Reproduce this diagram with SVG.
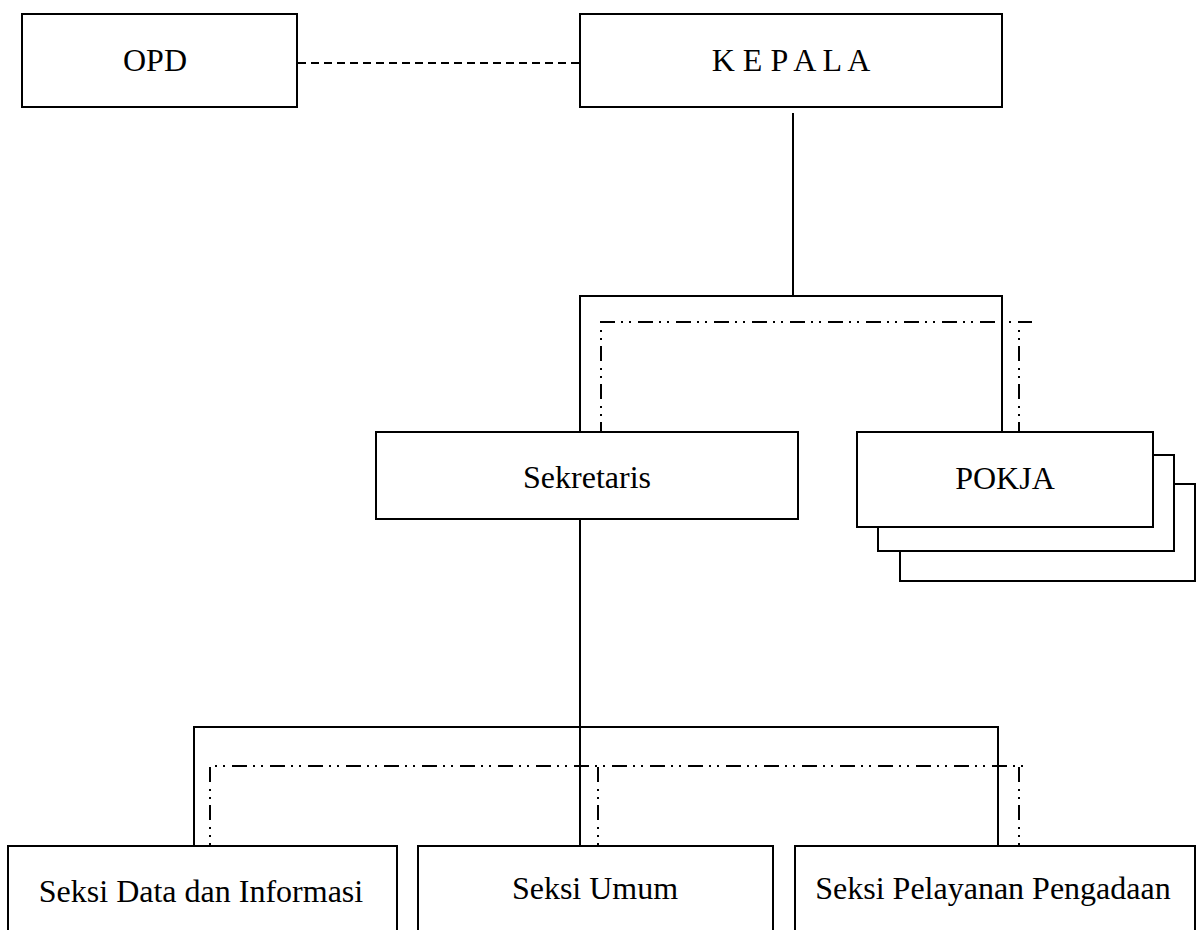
<svg xmlns="http://www.w3.org/2000/svg" width="1196" height="930" viewBox="0 0 1196 930">
<style>
.box{fill:#fff;stroke:#000;stroke-width:2}
.t{font-family:"Liberation Serif","Times New Roman",serif;font-size:32px;fill:#000;text-anchor:middle}
.solid{fill:none;stroke:#000;stroke-width:2}
.dash{fill:none;stroke:#000;stroke-width:2;stroke-dasharray:8 5}
.dd{fill:none;stroke:#000;stroke-width:2;stroke-dasharray:15 6 2 6 2 7}
</style>
<rect width="1196" height="930" fill="#fff"/>
<g id="connectors">
<line class="dash" x1="298" y1="63" x2="580" y2="63"/>
<polyline class="solid" points="793,113 793,296"/>
<polyline class="solid" points="580,432 580,296 1002,296 1002,432"/>
<polyline class="dd" points="601,437 601,322 1032,322"/>
<polyline class="dd" points="1019,437 1019,322"/>
<polyline class="solid" points="580,519 580,727"/>
<polyline class="solid" points="194,846 194,727 998,727 998,846"/>
<line class="solid" x1="580" y1="727" x2="580" y2="846"/>
<polyline class="dd" points="210,858 210,766 1024,766"/>
<polyline class="dd" points="598,858 598,766"/>
<polyline class="dd" points="1019,858 1019,766"/>
</g>
<g id="opd"><rect class="box" x="22" y="14" width="275" height="93"/><text class="t" x="155" y="71">OPD</text></g>
<g id="kepala"><rect class="box" x="580" y="14" width="422" height="93"/><text class="t" x="791" y="71">K E P A L A</text></g>
<g id="sekretaris"><rect class="box" x="376" y="432" width="422" height="87"/><text class="t" x="587" y="488">Sekretaris</text></g>
<g id="pokja">
<rect class="box" x="900" y="484" width="295" height="97"/>
<rect class="box" x="878" y="455" width="296" height="96"/>
<rect class="box" x="857" y="432" width="296" height="95"/>
<text class="t" x="1005" y="489">POKJA</text>
</g>
<g id="seksi-data"><rect class="box" x="8" y="846" width="389" height="100"/><text class="t" x="201" y="902">Seksi Data dan Informasi</text></g>
<g id="seksi-umum"><rect class="box" x="418" y="846" width="355" height="100"/><text class="t" x="595" y="899">Seksi Umum</text></g>
<g id="seksi-pelayanan"><rect class="box" x="795" y="846" width="400" height="100"/><text class="t" x="993" y="899">Seksi Pelayanan Pengadaan</text></g>
</svg>
